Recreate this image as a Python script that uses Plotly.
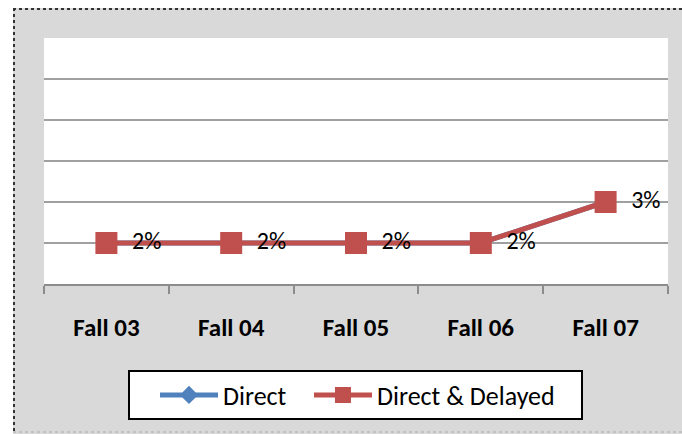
import plotly.graph_objects as go

# chart data (percent)
terms = ["Fall 03", "Fall 04", "Fall 05", "Fall 06", "Fall 07"]
direct = [2, 2, 2, 2, 3]
direct_delayed = [2, 2, 2, 2, 3]

W, H = 682, 434
L, R, T, B = 44, 14, 38, 150
pw, ph = W - L - R, H - T - B


def px_x(px):
    # pixel -> paper fraction
    return (px - L) / pw


def px_y(py):
    return (H - B - py) / ph


FONT = "Carlito, Calibri, Lato, sans-serif"
NB = "\u00a0"

fig = go.Figure()

fig.add_trace(go.Scatter(
    x=terms, y=direct, name="Direct" + NB * 3, mode="lines+markers",
    line=dict(color="#4f81bd", width=5),
    marker=dict(symbol="diamond", size=14, color="#4f81bd"),
))

fig.add_trace(go.Scatter(
    x=terms, y=direct_delayed, name="Direct & Delayed", mode="lines+markers+text",
    line=dict(color="#c0504d", width=5),
    marker=dict(symbol="square", size=22, color="#c0504d"),
    texttemplate=NB * 2 + "%{y:.0f}%", textposition="middle right",
    textfont=dict(size=24, color="black", family=FONT),
))

# white strips outside the chart border, dotted border lines, legend box
shapes = [
    dict(type="rect", xref="paper", yref="paper", layer="below",
         x0=px_x(0), x1=px_x(13), y0=px_y(H), y1=px_y(0),
         fillcolor="white", line=dict(width=0)),
    dict(type="rect", xref="paper", yref="paper", layer="below",
         x0=px_x(0), x1=px_x(W), y0=px_y(8), y1=px_y(0),
         fillcolor="white", line=dict(width=0)),
    dict(type="line", xref="paper", yref="paper",
         x0=px_x(13), x1=px_x(W), y0=px_y(9), y1=px_y(9),
         line=dict(color="#333333", width=2, dash="dot")),
    dict(type="line", xref="paper", yref="paper",
         x0=px_x(14), x1=px_x(14), y0=px_y(8), y1=px_y(H),
         line=dict(color="#333333", width=2, dash="dot")),
    dict(type="line", xref="paper", yref="paper",
         x0=px_x(13), x1=px_x(W), y0=px_y(432), y1=px_y(432),
         line=dict(color="#aaaaaa", width=1, dash="dot")),
    dict(type="rect", xref="paper", yref="paper",
         x0=px_x(129), x1=px_x(582), y0=px_y(419), y1=px_y(371),
         fillcolor="white", line=dict(color="black", width=2)),
]

fig.update_layout(
    width=W, height=H,
    margin=dict(l=L, r=R, t=T, b=B),
    paper_bgcolor="#d9d9d9",
    plot_bgcolor="white",
    font=dict(family=FONT, color="black"),
    shapes=shapes,
    showlegend=True,
    legend=dict(
        orientation="h", x=px_x(155), xanchor="left",
        y=px_y(395), yanchor="middle",
        bgcolor="rgba(0,0,0,0)", borderwidth=0,
        font=dict(size=26, family=FONT, color="black"),
        itemwidth=58,
    ),
    xaxis=dict(
        range=[-0.5, 4.5], showgrid=False, showline=True,
        linecolor="#8c8c8c", linewidth=2,
        ticks="outside", tickson="boundaries", ticklen=8,
        tickcolor="#8c8c8c", tickwidth=2,
        tickfont=dict(size=25, family=FONT, color="black", weight="bold"),
        ticklabelstandoff=20,
    ),
    yaxis=dict(
        range=[1, 7], dtick=1, showticklabels=False,
        showgrid=True, gridcolor="#a0a0a0", gridwidth=1.5,
        zeroline=False, showline=False, ticks="",
    ),
)

# drop the page's default body margin so the figure fills the window
fig.write_html(
    "out.html",
    config={"displayModeBar": False},
    post_script="document.body.style.margin = '0'; document.body.style.overflow = 'hidden';",
)
